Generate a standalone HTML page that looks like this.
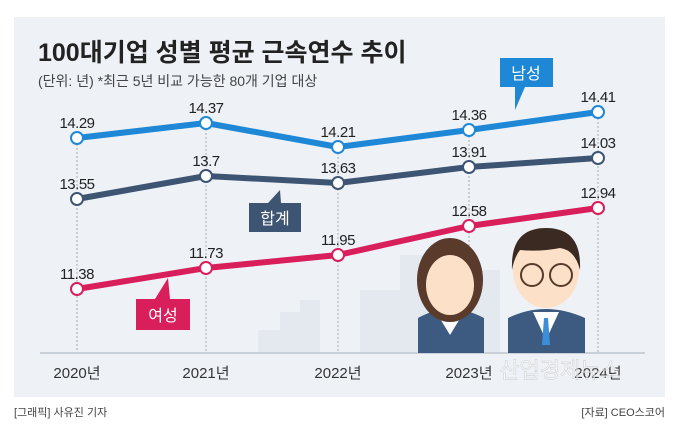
<!DOCTYPE html>
<html><head><meta charset="utf-8"><style>
body{margin:0;width:680px;height:432px;background:#fff;overflow:hidden;font-family:"Liberation Sans","Noto Sans CJK KR",sans-serif}
</style></head><body>
<svg width="680" height="432" viewBox="0 0 680 432" xmlns="http://www.w3.org/2000/svg" font-family="Liberation Sans, Noto Sans CJK KR, sans-serif">
<rect x="14" y="17" width="651" height="380" fill="#eef2f7"/>
<text x="38" y="61" font-size="25" font-weight="bold" fill="#222">100대기업 성별 평균 근속연수 추이</text>
<text x="38" y="86" font-size="14" fill="#444">(단위: 년) *최근 5년 비교 가능한 80개 기업 대상</text>
<g fill="#e3e9ee">
<rect x="258" y="330" width="30" height="23"/><rect x="280" y="312" width="40" height="41"/><rect x="300" y="300" width="20" height="53"/>
<rect x="400" y="255" width="40" height="98"/><rect x="360" y="290" width="40" height="63"/><rect x="470" y="270" width="30" height="83"/><rect x="440" y="300" width="30" height="53"/>
</g>
<g stroke="#aaa" stroke-dasharray="2,2" stroke-width="1">
<line x1="77" y1="140" x2="77" y2="353"/><line x1="206" y1="125" x2="206" y2="353"/><line x1="338" y1="149" x2="338" y2="353"/><line x1="469" y1="132" x2="469" y2="353"/><line x1="598" y1="114" x2="598" y2="353"/>
</g>
<line x1="40" y1="353" x2="645" y2="353" stroke="#c9d0d8" stroke-width="2"/>
<g>
<path d="M418 353 L418 318 Q450 300 484 318 L484 353Z" fill="#3d5a80"/>
<path d="M436 312 L450 335 L464 312Z" fill="#fff"/>
<ellipse cx="450" cy="280" rx="33" ry="42" fill="#5a3a2a"/>
<ellipse cx="450" cy="285" rx="24" ry="30" fill="#fde0c8"/>
<path d="M424 270 Q430 240 460 245 Q470 255 476 275 L476 262 Q470 238 450 240 Q426 240 424 270Z" fill="#5a3a2a"/>
<path d="M508 353 L508 318 Q545 300 585 318 L585 353Z" fill="#3d5a80"/>
<path d="M533 312 L546 340 L559 312Z" fill="#fff"/><path d="M544 318 L548 318 L550 345 L542 345Z" fill="#3b8fd8"/>
<ellipse cx="546" cy="270" rx="33" ry="38" fill="#fde0c8"/>
<path d="M512 270 Q510 228 546 228 Q582 228 580 270 Q575 250 560 248 Q540 252 520 250 Q514 258 512 270Z" fill="#3a2a22"/>
<circle cx="532" cy="275" r="11" fill="none" stroke="#5a3a2a" stroke-width="2"/><circle cx="561" cy="275" r="11" fill="none" stroke="#5a3a2a" stroke-width="2"/>
</g>
<g fill="none" stroke-width="6" stroke-linejoin="round">
<polyline points="77,138 206,123 338,147 469,130 598,112" stroke="#1f88d6"/>
<polyline points="77,199 206,176 338,183 469,167 598,158" stroke="#3d5573"/>
<polyline points="77,289 206,268 338,255 469,226 598,208" stroke="#d81e5b"/>
</g>
<g fill="#fff" stroke-width="2">
<g stroke="#1f88d6"><circle cx="77" cy="138" r="6"/><circle cx="206" cy="123" r="6"/><circle cx="338" cy="147" r="6"/><circle cx="469" cy="130" r="6"/><circle cx="598" cy="112" r="6"/></g>
<g stroke="#3d5573"><circle cx="77" cy="199" r="6"/><circle cx="206" cy="176" r="6"/><circle cx="338" cy="183" r="6"/><circle cx="469" cy="167" r="6"/><circle cx="598" cy="158" r="6"/></g>
<g stroke="#d81e5b"><circle cx="77" cy="289" r="6"/><circle cx="206" cy="268" r="6"/><circle cx="338" cy="255" r="6"/><circle cx="469" cy="226" r="6"/><circle cx="598" cy="208" r="6"/></g>
</g>
<g font-size="15" fill="#222" text-anchor="middle" letter-spacing="-0.5">
<text x="77" y="128">14.29</text><text x="206" y="113">14.37</text><text x="338" y="137">14.21</text><text x="469" y="120">14.36</text><text x="598" y="102">14.41</text>
<text x="77" y="189">13.55</text><text x="206" y="166">13.7</text><text x="338" y="173">13.63</text><text x="469" y="157">13.91</text><text x="598" y="148">14.03</text>
<text x="77" y="279">11.38</text><text x="206" y="258">11.73</text><text x="338" y="245">11.95</text><text x="469" y="216">12.58</text><text x="598" y="198">12.94</text>
</g>
<g font-size="16" fill="#fff" text-anchor="middle">
<path d="M500 58 H553 V87 H525 L515 110 L515 87 H500Z" fill="#1f88d6"/><text x="526" y="79">남성</text>
<path d="M249 203 H301 V232 H249Z M268 203 L280 190 L281 203Z" fill="#3d5573"/><text x="275" y="224">합계</text>
<path d="M136 299 H190 V330 H136Z M155 299 L168 278 L170 299Z" fill="#d81e5b"/><text x="163" y="321">여성</text>
</g>
<g font-size="15" fill="#333" text-anchor="middle">
<text x="77" y="378">2020년</text><text x="206" y="378">2021년</text><text x="338" y="378">2022년</text><text x="469" y="378">2023년</text><text x="598" y="378">2024년</text>
</g>
<text x="560" y="378" font-size="22" fill="#fff" fill-opacity="0.5" stroke="#ccc" stroke-width="0.5" text-anchor="middle">산업경제뉴스</text>
<text x="14" y="416" font-size="11" fill="#444">[그래픽] 사유진 기자</text>
<text x="665" y="416" font-size="11" fill="#444" text-anchor="end">[자료] CEO스코어</text>
</svg>
</body></html>
